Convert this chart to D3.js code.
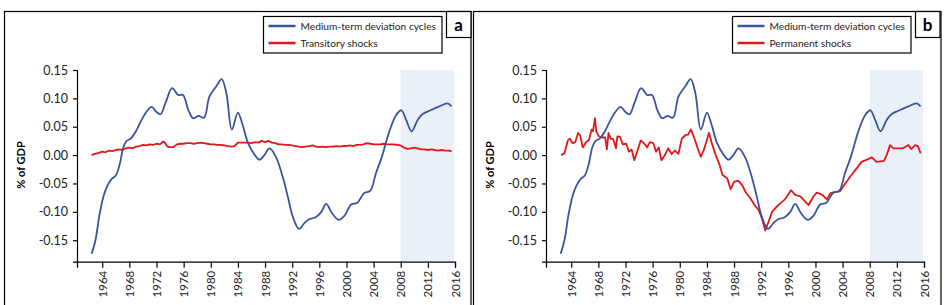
<!DOCTYPE html>
<html>
<head>
<meta charset="utf-8">
<script src="https://cdn.jsdelivr.net/npm/d3@7"></script>
<style>
  body { margin: 0; background: #fff; }
  svg { display: block; font-family: Lato, "Open Sans", sans-serif; }
</style>
</head>
<body>
<svg id="chart" width="945" height="305"></svg>
<script>
// medium-term deviation cycles (same in both panels)
const cycleYears = [1962.44, 1963.0, 1963.6, 1964.2, 1964.8, 1965.4, 1966.0, 1966.6, 1967.1, 1967.6, 1968.2,
  1969.06, 1969.8, 1970.5, 1971.26, 1972, 1972.6, 1973.3, 1974.3, 1975.2, 1975.9,
  1976.7, 1977.4, 1978.2, 1979, 1979.8, 1980.8, 1981.6, 1982.3, 1983.1, 1984,
  1984.7, 1985.5, 1986.5, 1987.2, 1987.9, 1988.66, 1989.6, 1990.6, 1991.35, 1992.1,
  1993, 1993.8, 1994.5, 1995.4, 1996.3, 1997, 1997.9, 1998.85, 1999.7, 2000.7,
  2001.6, 2002.6, 2003.5, 2004.35, 2005.3, 2006.3, 2007.3, 2008.1, 2008.8, 2009.6,
  2010.5, 2011.2, 2012.4, 2013.7, 2014.9, 2015.5];
const cycleValues = [-0.174, -0.150, -0.105, -0.072, -0.053, -0.042, -0.036, -0.015, 0.0135, 0.025, 0.029,
  0.044, 0.062, 0.076, 0.085, 0.076, 0.072, 0.091, 0.118, 0.106, 0.106,
  0.079, 0.065, 0.069, 0.066, 0.103, 0.121, 0.134, 0.109, 0.045, 0.075,
  0.053, 0.021, 0.0, -0.008, 0.0, 0.0117, -0.003, -0.038, -0.073, -0.109,
  -0.130, -0.120, -0.113, -0.110, -0.100, -0.086, -0.103, -0.114, -0.107, -0.087,
  -0.084, -0.067, -0.063, -0.032, 0.0, 0.041, 0.070, 0.079, 0.062, 0.042,
  0.062, 0.072, 0.079, 0.086, 0.091, 0.086];

// transitory shocks (panel a)
const transYears = [1962.44, 1962.9, 1963.5, 1964, 1964.5, 1965, 1965.5, 1966, 1966.5, 1967,
  1967.5, 1968, 1968.5, 1969, 1969.5, 1970, 1970.5, 1971, 1971.5, 1972,
  1972.5, 1973, 1973.3, 1973.6, 1974, 1974.5, 1975, 1975.5, 1976, 1976.5,
  1977, 1977.5, 1978, 1978.5, 1979, 1979.5, 1980, 1980.5, 1981, 1981.5,
  1982, 1982.5, 1983, 1983.5, 1984, 1984.5, 1985, 1985.5, 1986, 1986.5,
  1987, 1987.5, 1988, 1988.5, 1989, 1989.5, 1990, 1990.5, 1991, 1991.5,
  1992, 1992.5, 1993, 1993.5, 1994, 1994.5, 1995, 1995.5, 1996, 1996.5,
  1997, 1997.5, 1998, 1998.5, 1999, 1999.5, 2000, 2000.5, 2001, 2001.5,
  2002, 2002.5, 2003, 2003.5, 2004, 2004.5, 2005, 2005.5, 2006, 2006.5,
  2007, 2007.5, 2008, 2008.5, 2009, 2009.5, 2010, 2010.5, 2011, 2011.5,
  2012, 2012.5, 2013, 2013.5, 2014, 2014.5, 2015, 2015.5];
const transValues = [0.0, 0.002, 0.004, 0.006, 0.005, 0.008, 0.007, 0.009, 0.010, 0.009,
  0.012, 0.013, 0.012, 0.015, 0.016, 0.018, 0.017, 0.019, 0.018, 0.020,
  0.019, 0.024, 0.021, 0.015, 0.014, 0.014, 0.019, 0.020, 0.020, 0.021,
  0.021, 0.020, 0.021, 0.022, 0.021, 0.020, 0.019, 0.019, 0.018, 0.018,
  0.017, 0.016, 0.015, 0.016, 0.022, 0.022, 0.022, 0.022, 0.021, 0.023,
  0.022, 0.025, 0.023, 0.025, 0.022, 0.021, 0.019, 0.019, 0.018, 0.018,
  0.017, 0.016, 0.015, 0.014, 0.015, 0.016, 0.017, 0.015, 0.014, 0.015,
  0.014, 0.015, 0.015, 0.016, 0.015, 0.016, 0.016, 0.017, 0.016, 0.018,
  0.018, 0.019, 0.021, 0.020, 0.019, 0.019, 0.019, 0.020, 0.019, 0.019,
  0.019, 0.018, 0.017, 0.013, 0.011, 0.012, 0.013, 0.012, 0.010, 0.010,
  0.009, 0.010, 0.009, 0.008, 0.009, 0.008, 0.008, 0.007];

// permanent shocks (panel b)
const permYears = [1962.5, 1963, 1963.5, 1963.8, 1964.2, 1964.6, 1965, 1965.3, 1965.7, 1966.2,
  1966.6, 1967, 1967.2, 1967.5, 1967.7, 1968.1, 1968.6, 1969, 1969.25, 1969.5,
  1969.8, 1970.2, 1970.6, 1970.8, 1971.2, 1971.6, 1972.1, 1972.5, 1972.9, 1973.3,
  1973.8, 1974.25, 1974.7, 1975.2, 1975.6, 1976.1, 1976.5, 1976.9, 1977.3, 1977.8,
  1978.3, 1978.8, 1979.3, 1979.8, 1980.3, 1980.8, 1981.2, 1981.65, 1982.2, 1982.6,
  1983.1, 1983.55, 1984.3, 1984.7, 1985.3, 1985.8, 1986.3, 1987, 1987.5, 1988,
  1988.6, 1989.2, 1989.7, 1990.4, 1991.2, 1991.6, 1992.1, 1992.6, 1993.1, 1993.6,
  1994.3, 1994.8, 1995.5, 1996.4, 1997, 1997.8, 1999, 1999.7, 2000.2, 2001,
  2001.7, 2002.2, 2002.9, 2003.6, 2004.4, 2005.3, 2006.1, 2006.8, 2007.6, 2008.3,
  2009, 2010.1, 2010.5, 2011, 2011.5, 2012.2, 2012.9, 2013.7, 2014.1, 2014.7,
  2015.1, 2015.5];
const permValues = [0.0, 0.003, 0.026, 0.029, 0.021, 0.023, 0.039, 0.035, 0.0135, 0.023,
  0.026, 0.045, 0.042, 0.065, 0.041, 0.033, 0.031, 0.031, 0.010, 0.039,
  0.029, 0.028, 0.012, 0.033, 0.032, 0.019, 0.020, 0.006, 0.010, -0.009,
  0.009, 0.026, 0.021, 0.0135, 0.023, 0.021, 0.006, 0.0135, -0.009, 0.0,
  0.012, 0.002, 0.008, 0.002, 0.029, 0.035, 0.036, 0.045, 0.028, 0.0135,
  -0.003, 0.009, 0.039, 0.022, 0.0, -0.015, -0.035, -0.041, -0.060, -0.047,
  -0.045, -0.053, -0.065, -0.076, -0.091, -0.096, -0.111, -0.133, -0.117, -0.100,
  -0.091, -0.085, -0.078, -0.062, -0.070, -0.073, -0.088, -0.073, -0.066, -0.070,
  -0.078, -0.067, -0.065, -0.064, -0.050, -0.035, -0.023, -0.012, -0.008, -0.004,
  -0.012, -0.010, 0.0, 0.0176, 0.012, 0.012, 0.012, 0.0176, 0.0106, 0.0176,
  0.016, 0.003];

const yTicks = [-0.15, -0.10, -0.05, 0.00, 0.05, 0.10, 0.15];
const xTicks = [1964, 1968, 1972, 1976, 1980, 1984, 1988, 1992, 1996, 2000, 2004, 2008, 2012, 2016];
const shadeRange = [2008, 2016];
const cycleLabel = "Medium-term deviation cycles";

const panels = [
  { letter: "a", label: "Transitory shocks", years: transYears, values: transValues, dx: 0 },
  { letter: "b", label: "Permanent shocks", years: permYears, values: permValues, dx: 469 }
];

const blue = "#3a559f", red = "#e3161c";
const svg = d3.select("#chart");

// shared scales (per-panel shift through a translate)
const x = d3.scaleLinear().domain([1960.28, 2016]).range([77, 455]);
const y = d3.scaleLinear().domain([-0.1879, 0.15]).range([261.7, 70]);

const line = d3.line()
  .x(d => x(d[0]))
  .y(d => y(d[1]))
  .curve(d3.curveLinear);
const smooth = d3.line()
  .x(d => x(d[0]))
  .y(d => y(d[1]))
  .curve(d3.curveCatmullRom.alpha(0.5));

const cyclePts = cycleYears.map((yr, i) => [yr, cycleValues[i]]);

panels.forEach((p, k) => {
  const g = svg.append("g").attr("transform", `translate(${p.dx},0)`);

  // frame
  g.append("rect")
    .attr("x", 4.5).attr("y", 11.5)
    .attr("width", k === 0 ? 466.5 : 467.5).attr("height", 320)
    .attr("fill", "none").attr("stroke", "#000").attr("stroke-width", 1.2);

  // letter box
  g.append("rect")
    .attr("x", 446.5).attr("y", 11.5).attr("width", 24.5).attr("height", 26)
    .attr("fill", "#fff").attr("stroke", "#000").attr("stroke-width", 1.2);
  g.append("text")
    .attr("x", 458.5).attr("y", 31)
    .attr("text-anchor", "middle")
    .style("font-size", "17px").style("font-weight", "bold")
    .text(p.letter);

  // shaded period
  g.append("rect")
    .attr("x", x(shadeRange[0])).attr("y", y(0.15))
    .attr("width", x(shadeRange[1]) - x(shadeRange[0]) - 1)
    .attr("height", y.range()[0] - y(0.15))
    .attr("fill", "#eaf0f8");

  // axes
  const yAxis = g.append("g")
    .attr("transform", "translate(77,0)")
    .call(d3.axisLeft(y).tickValues(yTicks).tickSizeOuter(0).tickSize(4).tickPadding(5)
      .tickFormat(d => d.toFixed(2)));
  const xAxis = g.append("g")
    .attr("transform", `translate(0,${y.range()[0]})`)
    .call(d3.axisBottom(x).tickValues(xTicks).tickSizeOuter(0).tickSize(6)
      .tickFormat(d3.format("d")));
  xAxis.selectAll("text")
    .attr("transform", "rotate(-90)")
    .attr("text-anchor", "end")
    .attr("x", -9).attr("y", 0).attr("dy", "0.35em");
  [yAxis, xAxis].forEach(a => {
    a.selectAll("path, line").attr("stroke", "#000").attr("stroke-width", 1.2);
    a.selectAll("text").attr("fill", "#222")
      .style("font-family", "Lato, 'Open Sans', sans-serif");
  });
  yAxis.selectAll("text").style("font-size", "12.5px");
  xAxis.selectAll("text").style("font-size", "11.5px");

  // y label
  g.append("text")
    .attr("transform", "translate(25,165) rotate(-90)")
    .attr("text-anchor", "middle")
    .style("font-size", "11px").style("font-weight", "bold")
    .text("% of GDP");

  // series
  g.append("path")
    .datum(p.years.map((yr, i) => [yr, p.values[i]]))
    .attr("d", line)
    .attr("fill", "none").attr("stroke", red).attr("stroke-width", 1.8)
    .attr("stroke-linejoin", "round");
  g.append("path")
    .datum(cyclePts)
    .attr("d", smooth)
    .attr("fill", "none").attr("stroke", blue).attr("stroke-width", 1.8);

  // legend
  const lg = g.append("g").attr("transform", "translate(263.5,16.5)");
  lg.append("rect")
    .attr("width", 178.5).attr("height", 36.5)
    .attr("fill", "#fff").attr("stroke", "#000").attr("stroke-width", 1.2);
  [[cycleLabel, blue], [p.label, red]].forEach((d, i) => {
    lg.append("line")
      .attr("x1", 5).attr("x2", 32)
      .attr("y1", 9.5 + i * 17).attr("y2", 9.5 + i * 17)
      .attr("stroke", d[1]).attr("stroke-width", 2.5);
    lg.append("text")
      .attr("x", 37).attr("y", 13.5 + i * 17)
      .style("font-size", "10.2px").attr("fill", "#222")
      .text(d[0]);
  });
});
</script>
</body>
</html>
